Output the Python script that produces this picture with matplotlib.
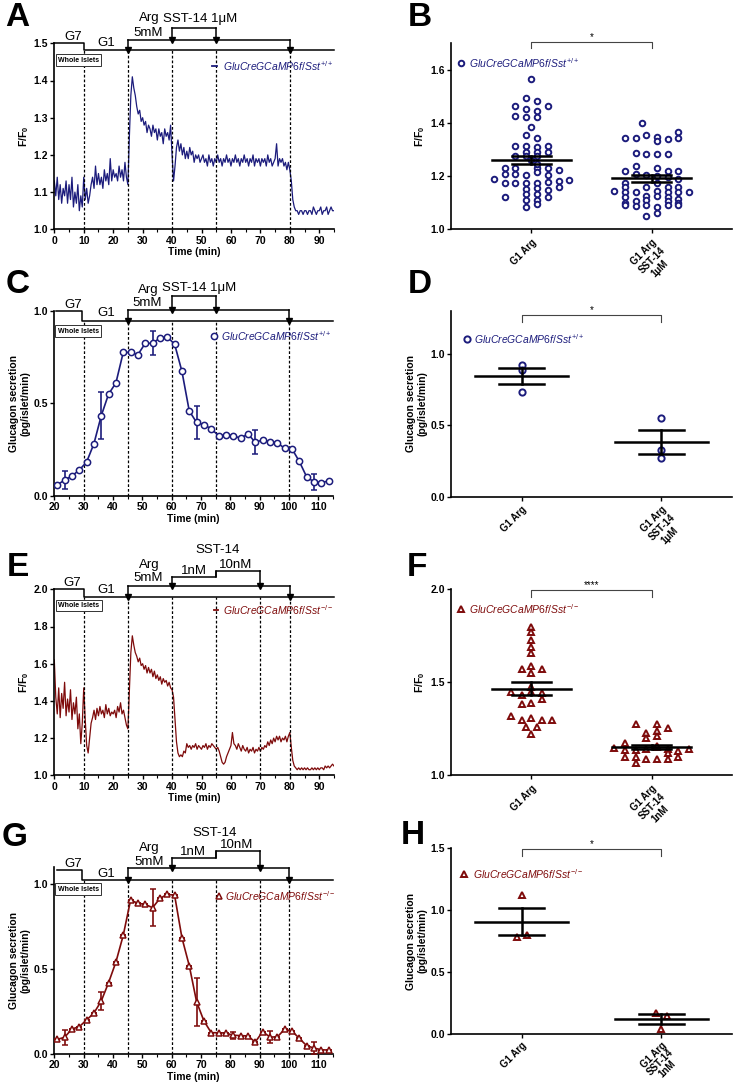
import numpy as np
import matplotlib
matplotlib.use("Agg")
import matplotlib.pyplot as plt
from matplotlib.ticker import MultipleLocator, FormatStrFormatter

plt.rcParams["font.family"] = ["Liberation Sans", "DejaVu Sans"]
plt.rcParams["mathtext.fontset"] = "custom"
plt.rcParams["mathtext.it"] = "Liberation Sans:italic"
plt.rcParams["mathtext.rm"] = "Liberation Sans"
plt.rcParams["mathtext.bf"] = "Liberation Sans:bold"

W, H = 733, 1083
NAVY = "#1c1c7c"
DRED = "#7e0b0b"

# ---- traces (sampled every 0.5 min) ----
trace_step = 0.5
trace_wt = [
    1.13, 1.09, 1.14, 1.08, 1.12, 1.07, 1.11, 1.09, 1.13, 1.07,
    1.12, 1.08, 1.14, 1.06, 1.10, 1.07, 1.12, 1.05, 1.09, 1.06,
    1.14, 1.08, 1.11, 1.07, 1.09, 1.12, 1.14, 1.11, 1.17, 1.12,
    1.15, 1.12, 1.14, 1.11, 1.16, 1.13, 1.15, 1.12, 1.19, 1.13,
    1.16, 1.14, 1.15, 1.13, 1.17, 1.14, 1.16, 1.13, 1.18, 1.14,
    1.12, 1.25, 1.36, 1.41, 1.38, 1.36, 1.33, 1.31, 1.32, 1.29,
    1.30, 1.28, 1.29, 1.26, 1.28, 1.27, 1.25, 1.28, 1.26, 1.27,
    1.24, 1.27, 1.25, 1.26, 1.23, 1.27, 1.25, 1.26, 1.24, 1.28,
    1.20, 1.13, 1.17, 1.22, 1.24, 1.21, 1.23, 1.20, 1.22, 1.19,
    1.21, 1.19, 1.22, 1.20, 1.21, 1.18, 1.20, 1.19, 1.20, 1.18,
    1.19, 1.20, 1.18, 1.19, 1.17, 1.20, 1.18, 1.19, 1.17, 1.19,
    1.18, 1.20, 1.18, 1.19, 1.17, 1.19, 1.18, 1.20, 1.18, 1.19,
    1.17, 1.19, 1.18, 1.20, 1.18, 1.19, 1.17, 1.19, 1.18, 1.20,
    1.18, 1.19, 1.17, 1.19, 1.18, 1.20, 1.17, 1.19, 1.18, 1.19,
    1.17, 1.19, 1.18, 1.19, 1.17, 1.20, 1.18, 1.19, 1.17, 1.18,
    1.19, 1.23, 1.17, 1.19, 1.18, 1.19, 1.17, 1.18, 1.16, 1.18,
    1.16, 1.13, 1.08, 1.06, 1.05, 1.05, 1.04, 1.05, 1.05, 1.04,
    1.05, 1.05, 1.04, 1.05, 1.05, 1.04, 1.06, 1.05, 1.04, 1.05,
    1.05, 1.06, 1.04, 1.05, 1.05, 1.06, 1.04, 1.05, 1.06, 1.05,
    1.05,
]
trace_ko = [
    1.62, 1.42, 1.33, 1.47, 1.31, 1.44, 1.36, 1.50, 1.32, 1.41,
    1.34, 1.46, 1.30, 1.39, 1.33, 1.42, 1.25, 1.33, 1.17, 1.28,
    1.47, 1.30, 1.16, 1.12, 1.20, 1.28, 1.31, 1.35, 1.30, 1.36,
    1.32, 1.37, 1.33, 1.35, 1.31, 1.38, 1.33, 1.36, 1.32, 1.34,
    1.33, 1.35, 1.31, 1.37, 1.34, 1.39, 1.33, 1.35, 1.31, 1.27,
    1.25, 1.45, 1.66, 1.75, 1.70, 1.66, 1.64, 1.61, 1.63, 1.59,
    1.60, 1.57, 1.59, 1.55, 1.58, 1.55, 1.57, 1.53, 1.56, 1.52,
    1.54, 1.51, 1.53, 1.49, 1.52, 1.50, 1.51, 1.48, 1.50, 1.47,
    1.46, 1.42, 1.30, 1.18, 1.12, 1.10, 1.11, 1.10, 1.13, 1.12,
    1.17, 1.15, 1.16, 1.14, 1.16, 1.15, 1.17, 1.14, 1.16, 1.15,
    1.14, 1.16, 1.15, 1.17, 1.14, 1.16, 1.15, 1.17, 1.16, 1.15,
    1.14, 1.15, 1.13, 1.10, 1.07, 1.06, 1.07, 1.10, 1.12, 1.14,
    1.16, 1.23, 1.17, 1.16, 1.14, 1.17, 1.15, 1.13, 1.16, 1.14,
    1.13, 1.15, 1.12, 1.14, 1.13, 1.15, 1.12, 1.14, 1.13, 1.15,
    1.13, 1.15, 1.14, 1.16, 1.15, 1.18, 1.16, 1.19, 1.17, 1.20,
    1.18, 1.21, 1.19, 1.21, 1.18, 1.20, 1.19, 1.21, 1.18, 1.21,
    1.23, 1.15, 1.08, 1.05, 1.04, 1.03, 1.04, 1.03, 1.04, 1.03,
    1.04, 1.03, 1.04, 1.03, 1.03, 1.04, 1.03, 1.04, 1.03, 1.04,
    1.03, 1.04, 1.04, 1.03, 1.05, 1.04, 1.05, 1.04, 1.05, 1.06,
    1.05,
]

# ---- perifusion fractions ----
frac_time = [21, 23.5, 26, 28.5, 31, 33.5, 36, 38.5, 41, 43.5, 46, 48.5, 51, 53.5,
             56, 58.5, 61, 63.5, 66, 68.5, 71, 73.5, 76, 78.5, 81, 83.5, 86, 88.5,
             91, 93.5, 96, 98.5, 101, 103.5, 106, 108.5, 111, 113.5]
gcg_wt = [0.060, 0.086, 0.108, 0.140, 0.183, 0.282, 0.433, 0.550, 0.610, 0.775,
          0.775, 0.763, 0.824, 0.824, 0.853, 0.858, 0.820, 0.673, 0.459, 0.397,
          0.385, 0.362, 0.326, 0.329, 0.326, 0.311, 0.335, 0.290, 0.302, 0.293,
          0.288, 0.257, 0.255, 0.187, 0.104, 0.076, 0.072, 0.081]
gcg_wt_err = [0, 0.050, 0, 0, 0, 0, 0.127, 0, 0, 0, 0, 0, 0, 0.065, 0, 0, 0, 0, 0,
              0.087, 0, 0, 0, 0, 0, 0, 0, 0.066, 0, 0, 0, 0, 0, 0, 0, 0.043, 0, 0]
gcg_ko = [0.086, 0.098, 0.147, 0.160, 0.200, 0.240, 0.311, 0.419, 0.540, 0.697,
          0.904, 0.885, 0.879, 0.859, 0.914, 0.937, 0.933, 0.683, 0.519, 0.307,
          0.194, 0.125, 0.125, 0.123, 0.110, 0.108, 0.106, 0.070, 0.131, 0.100,
          0.100, 0.145, 0.135, 0.092, 0.049, 0.035, 0.025, 0.023]
gcg_ko_err = [0, 0.043, 0, 0, 0, 0, 0.055, 0, 0, 0, 0, 0, 0, 0.108, 0, 0, 0, 0, 0,
              0.142, 0, 0, 0, 0, 0.020, 0, 0, 0, 0, 0.035, 0, 0, 0, 0, 0, 0.033, 0, 0]

# ---- scatter panels: (offset within group, value) ----
b_arg = [(0, 1.565), (-0.044, 1.493), (0.047, 1.483), (-0.133, 1.463), (-0.044, 1.453),
         (0.047, 1.446), (0.136, 1.463), (-0.133, 1.427), (-0.044, 1.422), (0.047, 1.422),
         (0, 1.385), (-0.044, 1.356), (0.047, 1.344), (-0.133, 1.315), (-0.044, 1.315),
         (0.047, 1.310), (0.136, 1.314), (-0.044, 1.292), (0.047, 1.291), (0.136, 1.291),
         (-0.133, 1.274), (-0.044, 1.274), (0.047, 1.274), (0, 1.261), (-0.222, 1.232),
         (-0.133, 1.232), (0.047, 1.232), (0.136, 1.232), (0.047, 1.245), (0.228, 1.222),
         (-0.222, 1.207), (-0.133, 1.207), (-0.044, 1.205), (0.047, 1.215), (0.136, 1.205),
         (-0.311, 1.190), (0.314, 1.186), (-0.222, 1.176), (-0.133, 1.176), (-0.044, 1.173),
         (0.047, 1.176), (0.136, 1.178), (0.228, 1.182), (-0.044, 1.153), (0.047, 1.154),
         (0.136, 1.148), (0.228, 1.160), (-0.222, 1.122), (-0.044, 1.132), (0.047, 1.132),
         (0.136, 1.123), (-0.044, 1.110), (0.047, 1.112), (-0.044, 1.083), (0.047, 1.095)]
b_sst = [(-0.078, 1.400), (0.222, 1.366), (0.222, 1.345), (-0.222, 1.345), (-0.133, 1.345),
         (-0.044, 1.355), (0.044, 1.349), (0.044, 1.331), (0.133, 1.340), (-0.133, 1.289),
         (-0.044, 1.282), (0.044, 1.282), (0.133, 1.282), (-0.133, 1.238), (0.044, 1.232),
         (-0.222, 1.220), (0.133, 1.220), (0.222, 1.220), (-0.133, 1.207), (-0.044, 1.205),
         (0.044, 1.200), (0.133, 1.196), (0.222, 1.188), (-0.222, 1.175), (-0.311, 1.146),
         (0.311, 1.142), (-0.222, 1.160), (-0.044, 1.160), (0.044, 1.175), (0.133, 1.160),
         (0.222, 1.160), (-0.222, 1.140), (-0.133, 1.140), (0.044, 1.145), (0.133, 1.140),
         (0.222, 1.140), (-0.222, 1.120), (-0.044, 1.125), (0.044, 1.125), (0.133, 1.120),
         (0.222, 1.115), (-0.222, 1.100), (-0.133, 1.105), (-0.044, 1.110), (0.133, 1.105),
         (0.222, 1.100), (-0.222, 1.090), (-0.133, 1.088), (-0.044, 1.090), (0.044, 1.083),
         (0.133, 1.090), (0.222, 1.090), (0.044, 1.063), (-0.044, 1.050)]
b_mean, b_sem = [1.260, 1.192], [0.016, 0.013]

d_arg = [(0, 0.918), (0, 0.883), (0, 0.732)]
d_sst = [(0, 0.548), (0, 0.326), (0, 0.273)]
d_mean, d_sem = [0.844, 0.382], [0.058, 0.084]

f_arg = [(0, 1.80), (0, 1.77), (0, 1.73), (0, 1.69), (0, 1.66), (-0.081, 1.57), (0, 1.59),
         (0.089, 1.57), (0, 1.55), (0, 1.475), (-0.167, 1.45), (-0.081, 1.43), (0, 1.45),
         (0.089, 1.44), (-0.081, 1.385), (0, 1.39), (0.089, 1.41), (-0.167, 1.32),
         (-0.081, 1.30), (0, 1.31), (0.089, 1.30), (0.172, 1.30), (-0.044, 1.26),
         (0.044, 1.26), (0, 1.22)]
f_sst = [(-0.133, 1.276), (0.044, 1.276), (0.133, 1.255), (-0.044, 1.23), (0.044, 1.24),
         (-0.044, 1.20), (0.044, 1.21), (-0.222, 1.175), (-0.311, 1.145), (-0.222, 1.136),
         (-0.133, 1.136), (-0.044, 1.14), (0.044, 1.15), (0.133, 1.14), (0.222, 1.13),
         (0.311, 1.14), (0.133, 1.118), (0.044, 1.16), (-0.222, 1.097), (-0.133, 1.097),
         (-0.044, 1.09), (0.044, 1.088), (0.133, 1.088), (0.222, 1.097), (-0.133, 1.068)]
f_mean, f_sem = [1.465, 1.152], [0.035, 0.012]

h_arg = [(0, 1.123), (-0.036, 0.785), (0.036, 0.796)]
h_sst = [(-0.036, 0.174), (0.038, 0.150), (0, 0.046)]
h_mean, h_sem = [0.906, 0.123], [0.110, 0.040]

lbl_1um = ["G1 Arg", "G1 Arg\nSST-14\n1\u03bcM"]
lbl_1nm = ["G1 Arg", "G1 Arg\nSST-14\n1nM"]
leg_wt = r"$\mathit{GluCreGCaMP6f/Sst}^{+/+}$"
leg_ko = r"$\mathit{GluCreGCaMP6f/Sst}^{-/-}$"
ylab_f = r"F/F$_\mathbf{0}$"
ylab_g = "Glucagon secretion\n(pg/islet/min)"

fig = plt.figure(figsize=(W / 100, H / 100), dpi=100)


def add_ax(l, t, r, b):
    return fig.add_axes([l / W, 1 - b / H, (r - l) / W, (b - t) / H])


def style(ax, ylim, ystep, fmt="%.1f"):
    for s in ("top", "right"):
        ax.spines[s].set_visible(False)
    for s in ("left", "bottom"):
        ax.spines[s].set_linewidth(1.2)
    ax.set_ylim(*ylim)
    ax.yaxis.set_major_locator(MultipleLocator(ystep))
    ax.yaxis.set_major_formatter(FormatStrFormatter(fmt))
    ax.tick_params(labelsize=7.5, width=1.0, length=3, pad=1.5)
    for t in ax.get_xticklabels() + ax.get_yticklabels():
        t.set_fontweight("bold")


def arrow_down(ax, x, y_top, y_bot):
    ax.plot([x, x], [y_top, y_bot], color="k", lw=1.1, clip_on=False)
    ax.plot([x], [y_bot], marker="v", ms=4, color="k", clip_on=False)


def protocol(ax, x0, x1, t_g1, t_arg, t_end, sst, y_g7, y_base, y_arg, dashes, texts, box):
    kw = dict(color="k", lw=1.1, clip_on=False)
    ax.plot([x0, t_g1, t_g1, x1], [y_g7, y_g7, y_base, y_base], **kw)
    ax.plot([t_arg, t_end], [y_arg, y_arg], **kw)
    arrow_down(ax, t_arg, y_arg, y_base)
    arrow_down(ax, t_end, y_arg, y_base)
    # sst steps: list of (time, level); last entry closes back to y_arg
    xs, ys = [], []
    for i, (t, lev) in enumerate(sst[:-1]):
        xs += [t, sst[i + 1][0]]
        ys += [lev, lev]
    ax.plot(xs, ys, **kw)
    ax.plot([sst[0][0], sst[0][0]], [sst[0][1], y_arg], **kw)
    for i in range(1, len(sst) - 1):
        ax.plot([sst[i][0]] * 2, [sst[i - 1][1], sst[i][1]], **kw)
    ax.plot([sst[0][0]], [y_arg], marker="v", ms=4, color="k", clip_on=False)
    arrow_down(ax, sst[-1][0], sst[-2][1], y_arg)
    ybot = ax.get_ylim()[0]
    for d in dashes:
        ax.plot([d, d], [ybot, y_base], color="k", lw=0.9, ls=(0, (2.2, 1.6)))
    for x, y, s in texts:
        ax.text(x, y, s, fontsize=9.5, ha="center", va="center", clip_on=False)
    ax.text(box[0], box[1], "Whole Islets", fontsize=5, fontweight="bold", ha="left",
            va="center", bbox=dict(boxstyle="square,pad=0.3", fc="white", ec="#333333", lw=0.7))


def time_axis(ax, xlim, major):
    ax.set_xlim(*xlim)
    ax.xaxis.set_major_locator(MultipleLocator(major))
    ax.xaxis.set_minor_locator(MultipleLocator(5))
    ax.tick_params(axis="x", which="minor", length=2, width=0.8)
    ax.set_xlabel("Time (min)", fontsize=7.5, fontweight="bold", labelpad=1)
    for t in ax.get_xticklabels():
        t.set_fontweight("bold")


def dot_panel(ax, arg, sst, means, sems, color, marker, ms, xlim, ylim, ystep,
              labels, sig, stars, leg, legpos, ylab, xpad=2.5, lsp=1.2):
    for g, pts in enumerate([arg, sst]):
        xs = [g + p[0] for p in pts]
        ys = [p[1] for p in pts]
        ax.plot(xs, ys, ls="none", marker=marker, ms=ms, mfc="white", mec=color,
                mew=1.4, zorder=2)
    for g in range(2):
        m, s = means[g], sems[g]
        ax.plot([g - 0.33, g + 0.33], [m, m], color="k", lw=1.8, zorder=3)
        ax.plot([g - 0.16, g + 0.16], [m - s, m - s], color="k", lw=1.8, zorder=3)
        ax.plot([g - 0.16, g + 0.16], [m + s, m + s], color="k", lw=1.8, zorder=3)
        ax.plot([g, g], [m - s, m + s], color="k", lw=1.8, zorder=3)
    style(ax, ylim, ystep)
    ax.set_xlim(*xlim)
    ax.set_xticks([0, 1])
    ax.set_xticklabels(labels, rotation=45, ha="right", va="top", rotation_mode="anchor",
                       multialignment="center", fontsize=7, fontweight="bold",
                       linespacing=lsp)
    ax.tick_params(axis="x", pad=xpad)
    top, leg_y = sig
    ax.plot([0, 0, 1, 1], [leg_y, top, top, leg_y], color="#444444", lw=0.8, clip_on=False)
    ax.text(0.5, top, stars, fontsize=7, ha="center", va="bottom", clip_on=False)
    mx, my, tx = legpos
    ax.plot([mx], [my], marker=marker, ms=ms, mfc="white", mec=color, mew=1.4, clip_on=False)
    ax.text(tx, my, leg, fontsize=7.5, color=color, ha="left", va="center")
    ax.set_ylabel(ylab, fontsize=7.5, fontweight="bold", labelpad=2)


t_trace = np.arange(len(trace_wt)) * trace_step

# ---- A ----
ax = add_ax(54.3, 43.3, 334, 229.3)
style(ax, (1.0, 1.5), 0.1)
ax.plot(t_trace, trace_wt, color=NAVY, lw=0.9)
time_axis(ax, (0, 95), 10)
protocol(ax, 0, 95, 10, 25, 80, [(40, 1.542), (55, 1.542)], 1.5, 1.482, 1.509,
         [10, 25, 40, 55, 80],
         [(6.5, 1.516, "G7"), (17.8, 1.500, "G1"), (32.3, 1.567, "Arg"),
          (32.0, 1.527, "5mM"), (49.4, 1.565, "SST-14 1\u03bcM")], (1.3, 1.455))
ax.plot([53.6, 55.3], [1.439, 1.439], color=NAVY, lw=1.3)
ax.text(57.4, 1.439, leg_wt, fontsize=7.5, color=NAVY, va="center")
ax.set_ylabel(ylab_f, fontsize=7.5, fontweight="bold", labelpad=2)

# ---- B ----
ax = add_ax(451, 43.3, 732, 229.3)
dot_panel(ax, b_arg, b_sst, b_mean, b_sem, NAVY, "o", 4.0, (-0.67, 1.67), (1.0, 1.7), 0.2,
          lbl_1um, (1.706, 1.681), "*", leg_wt, (-0.583, 1.625, -0.52), ylab_f)

# ---- C ----
ax = add_ax(54.3, 310.7, 333, 496)
style(ax, (0, 1.0), 0.5)
ax.errorbar(frac_time, gcg_wt, yerr=gcg_wt_err, color=NAVY, lw=1.2, marker="o", ms=4.5,
            mfc="white", mec=NAVY, mew=1.1, capsize=2.2, elinewidth=1.2, capthick=1.2, zorder=3)
time_axis(ax, (20, 115), 10)
protocol(ax, 20.5, 115, 29.5, 45, 100, [(60, 1.079), (75, 1.079)], 1.0, 0.944, 1.004,
         [30, 45, 60, 75, 100],
         [(26.3, 1.03, "G7"), (37.6, 0.986, "G1"), (51.9, 1.11, "Arg"),
          (51.5, 1.04, "5mM"), (69.4, 1.12, "SST-14 1\u03bcM")], (21.1, 0.89))
ax.plot([74.3], [0.863], marker="o", ms=4.5, mfc="white", mec=NAVY, mew=1.1)
ax.text(76.8, 0.863, leg_wt, fontsize=7.5, color=NAVY, va="center")
ax.set_ylabel(ylab_g, fontsize=7.5, fontweight="bold", labelpad=2)

# ---- D ----
ax = add_ax(451, 310.7, 732, 496.7)
dot_panel(ax, d_arg, d_sst, d_mean, d_sem, NAVY, "o", 4.5, (-0.505, 1.505), (0, 1.3), 0.5,
          lbl_1um, (1.27, 1.22), "*", leg_wt, (-0.39, 1.10, -0.337), ylab_g)

# ---- E ----
ax = add_ax(54.3, 589.3, 334, 775.3)
style(ax, (1.0, 2.0), 0.2)
ax.plot(t_trace, trace_ko, color=DRED, lw=0.9)
time_axis(ax, (0, 95), 10)
protocol(ax, 0, 95, 10, 25, 80, [(40, 2.068), (55, 2.10), (70, 2.10)], 2.0, 1.96, 2.018,
         [10, 25, 40, 55, 70, 80],
         [(6.1, 2.032, "G7"), (17.8, 1.996, "G1"), (32.3, 2.13, "Arg"),
          (32.0, 2.06, "5mM"), (55.3, 2.21, "SST-14"), (47.4, 2.10, "1nM"),
          (61.6, 2.13, "10nM")], (1.4, 1.912))
ax.plot([54.2, 55.6], [1.889, 1.889], color=DRED, lw=1.3)
ax.text(57.4, 1.889, leg_ko, fontsize=7.5, color=DRED, va="center")
ax.set_ylabel(ylab_f, fontsize=7.5, fontweight="bold", labelpad=2)

# ---- F ----
ax = add_ax(451, 589.3, 732, 775.3)
dot_panel(ax, f_arg, f_sst, f_mean, f_sem, DRED, "^", 4.2, (-0.67, 1.67), (1.0, 2.0), 0.5,
          lbl_1nm, (1.996, 1.96), "****", leg_ko, (-0.583, 1.893, -0.52), ylab_f)

# ---- G ----
ax = add_ax(54.3, 866.7, 333, 1054)
style(ax, (0, 1.1), 0.5)
ax.errorbar(frac_time, gcg_ko, yerr=gcg_ko_err, color=DRED, lw=1.2, marker="^", ms=4.5,
            mfc="white", mec=DRED, mew=1.1, capsize=2.2, elinewidth=1.2, capthick=1.2, zorder=3)
time_axis(ax, (20, 115), 10)
protocol(ax, 20.8, 115, 29.5, 45, 100, [(60, 1.153), (75, 1.194), (90, 1.194)], 1.08, 1.023,
         1.09, [30, 45, 60, 75, 90, 100],
         [(26.3, 1.115, "G7"), (37.6, 1.06, "G1"), (52.3, 1.207, "Arg"),
          (52.3, 1.129, "5mM"), (74.8, 1.30, "SST-14"), (67.4, 1.188, "1nM"),
          (82.0, 1.227, "10nM")], (21.1, 0.969))
ax.plot([76.0], [0.928], marker="^", ms=4.5, mfc="white", mec=DRED, mew=1.1)
ax.text(78.2, 0.928, leg_ko, fontsize=7.5, color=DRED, va="center")
ax.set_ylabel(ylab_g, fontsize=7.5, fontweight="bold", labelpad=2)

# ---- H ----
ax = add_ax(451, 847.7, 732, 1034.3)
dot_panel(ax, h_arg, h_sst, h_mean, h_sem, DRED, "^", 4.5, (-0.505, 1.505), (0, 1.5), 0.5,
          lbl_1nm, (1.488, 1.437), "*", leg_ko, (-0.41, 1.29, -0.35), ylab_g,
          xpad=1.0, lsp=1.0)

for s, x, y in [("A", 17, 17), ("B", 420, 18), ("C", 18, 285), ("D", 420, 285),
                ("E", 18, 567), ("F", 417, 567), ("G", 15, 838), ("H", 413, 835)]:
    fig.text(x / W, 1 - y / H, s, fontsize=24, fontweight="bold", ha="center", va="center")

fig.savefig("out.png", dpi=100)
